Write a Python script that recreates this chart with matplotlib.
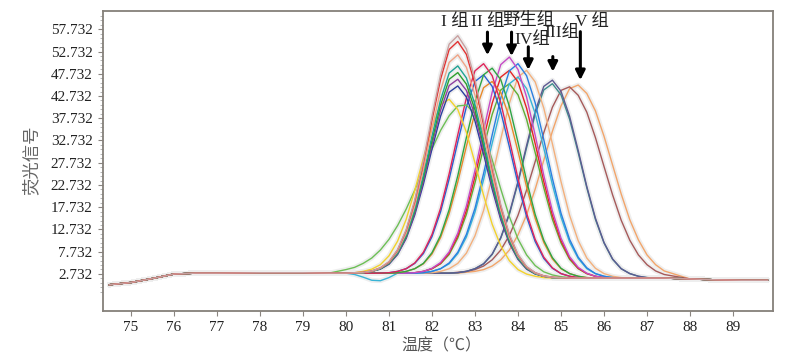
import matplotlib
matplotlib.use('Agg')
import matplotlib.pyplot as plt
from matplotlib.ticker import FixedLocator

plt.rcParams['font.family'] = ['Liberation Serif', 'Noto Sans CJK SC']

# ---- data: melting curves ----
temps_low = [74.5, 75.0, 75.5, 76.0, 76.5, 77.0, 78.0, 79.0, 79.6]
base_low = [0.3, 0.8, 1.7, 2.7, 2.9, 2.9, 3.0, 3.0, 2.9]

temps_peak = [80.0, 80.2, 80.4, 80.6, 80.8, 81.0, 81.2, 81.4, 81.6, 81.8,
              82.0, 82.2, 82.4, 82.6, 82.8, 83.0, 83.2, 83.4, 83.6, 83.8,
              84.0, 84.2, 84.4, 84.6, 84.8, 85.0, 85.2, 85.4, 85.6, 85.8,
              86.0, 86.2, 86.4, 86.6, 86.8, 87.0, 87.2, 87.4]

temps_tail = [88.0, 88.6, 89.2, 89.8]
base_tail = [1.6, 1.4, 1.3, 1.3]

# group I  (peak ~82.6)
grp1_a = [2.9, 3.0, 3.1, 3.4, 4.1, 5.5, 8.2, 12.7, 19.4, 28.2, 38.2, 47.6, 54.4,
          56.3, 53.3, 46.5, 37.1, 27.1, 18.3, 11.6, 7.1, 4.4, 3.0, 2.3, 2.0, 1.9,
          1.8, 1.8, 1.8, 1.8, 1.8, 1.8, 1.8, 1.8, 1.8, 1.8, 1.8, 1.8]
grp1_b = [2.9, 3.0, 3.1, 3.4, 4.1, 5.4, 8.1, 12.5, 19.0, 27.6, 37.3, 46.5, 53.2,
          55.0, 52.1, 45.4, 36.2, 26.5, 17.9, 11.4, 7.0, 4.3, 3.0, 2.3, 2.0, 1.9,
          1.8, 1.8, 1.8, 1.8, 1.8, 1.8, 1.8, 1.8, 1.8, 1.8, 1.8, 1.8]
grp1_c = [2.9, 2.9, 3.0, 3.3, 4.0, 5.3, 7.8, 11.9, 18.1, 26.2, 35.4, 44.0, 50.3,
          52.0, 49.2, 42.9, 34.3, 25.1, 17.0, 10.8, 6.7, 4.2, 2.9, 2.2, 1.9, 1.8,
          1.8, 1.8, 1.8, 1.8, 1.8, 1.8, 1.8, 1.8, 1.8, 1.8, 1.8, 1.8]
grp1_d = [2.9, 2.9, 3.0, 3.3, 3.9, 5.2, 7.5, 11.5, 17.3, 25.0, 33.7, 41.9, 47.9,
          49.5, 46.8, 40.8, 32.6, 23.9, 16.2, 10.4, 6.4, 4.1, 2.8, 2.2, 1.9, 1.8,
          1.8, 1.8, 1.8, 1.8, 1.8, 1.8, 1.8, 1.8, 1.8, 1.8, 1.8, 1.8]
grp1_e = [2.9, 2.9, 3.0, 3.3, 3.9, 5.1, 7.4, 11.2, 16.9, 24.3, 32.7, 40.7, 46.5,
          48.0, 45.4, 39.6, 31.6, 23.2, 15.8, 10.1, 6.3, 4.0, 2.8, 2.2, 1.9, 1.8,
          1.8, 1.8, 1.8, 1.8, 1.8, 1.8, 1.8, 1.8, 1.8, 1.8, 1.8, 1.8]
grp1_f = [2.9, 2.9, 3.0, 3.3, 3.9, 5.0, 7.2, 10.9, 16.4, 23.6, 31.8, 39.5, 45.1,
          46.5, 44.0, 38.4, 30.7, 22.5, 15.3, 9.8, 6.1, 3.9, 2.8, 2.2, 1.9, 1.8,
          1.8, 1.8, 1.8, 1.8, 1.8, 1.8, 1.8, 1.8, 1.8, 1.8, 1.8, 1.8]
grp1_g = [2.9, 2.9, 3.0, 3.3, 3.8, 4.9, 7.1, 10.7, 16.0, 22.9, 30.8, 38.2, 43.6,
          45.0, 42.5, 37.1, 29.7, 21.8, 14.9, 9.6, 6.0, 3.8, 2.7, 2.2, 1.9, 1.8,
          1.8, 1.8, 1.8, 1.8, 1.8, 1.8, 1.8, 1.8, 1.8, 1.8, 1.8, 1.8]
grp1_yellow = [2.9, 3.0, 3.3, 3.8, 4.8, 6.8, 10.1, 15.0, 21.5, 28.8, 35.7, 40.8,
               42.0, 39.7, 34.6, 27.7, 20.4, 13.9, 9.0, 5.7, 3.7, 2.7, 2.2, 1.9, 1.8,
               1.8, 1.8, 1.8, 1.8, 1.8, 1.8, 1.8, 1.8, 1.8, 1.8, 1.8, 1.8, 1.8]
grp1_green = [3.7, 4.2, 5.1, 6.3, 8.1, 10.5, 13.6, 17.3, 21.6, 26.2, 30.8, 35.0, 38.3, 40.5,
              40.7, 38.7, 34.4, 28.4, 21.8, 15.6, 10.6, 7.0, 4.6, 3.2, 2.5, 2.1, 1.9,
              1.8, 1.8, 1.8, 1.8, 1.8, 1.8, 1.8, 1.8, 1.8, 1.8, 1.8]

# group II  (peak ~83.3)
grp2_a = [2.9, 2.9, 2.9, 2.9, 2.9, 3.0, 3.3, 3.9, 5.2, 7.6, 11.6, 17.5, 25.3, 34.0, 42.3, 48.4,
          50.0, 47.3, 41.2, 32.9, 24.2, 16.4, 10.5, 6.5, 4.1, 2.8, 2.2, 1.9,
          1.8, 1.8, 1.8, 1.8, 1.8, 1.8, 1.8, 1.8, 1.8, 1.8]
grp2_b = [2.9, 2.9, 2.9, 2.9, 2.9, 2.9, 3.0, 3.3, 3.9, 5.1, 7.5, 11.4, 17.2, 24.8, 33.4, 41.5, 47.5,
          49.0, 46.4, 40.4, 32.3, 23.7, 16.1, 10.3, 6.4, 4.0, 2.8, 2.2, 1.9,
          1.8, 1.8, 1.8, 1.8, 1.8, 1.8, 1.8, 1.8, 1.8]
grp2_c = [2.9, 2.9, 2.9, 2.9, 2.9, 3.0, 3.3, 3.9, 5.1, 7.3, 11.1, 16.7, 24.1, 32.4, 40.3, 46.0,
          47.5, 44.9, 39.2, 31.3, 23.0, 15.6, 10.0, 6.2, 4.0, 2.8, 2.2, 1.9,
          1.8, 1.8, 1.8, 1.8, 1.8, 1.8, 1.8, 1.8, 1.8, 1.8]
grp2_d = [2.9, 2.9, 2.9, 2.9, 2.9, 2.9, 3.0, 3.3, 3.9, 5.0, 7.2, 10.9, 16.3, 23.4, 31.4, 39.0, 44.6,
          46.0, 43.5, 37.9, 30.3, 22.3, 15.2, 9.8, 6.1, 3.9, 2.8, 2.2, 1.9,
          1.8, 1.8, 1.8, 1.8, 1.8, 1.8, 1.8, 1.8, 1.8]

# wild type  (peak ~83.85)
wild_a = [2.9, 2.9, 2.9, 2.9, 2.9, 2.9, 2.9, 2.9, 3.0, 3.3, 4.0, 5.3, 7.7, 11.9, 18.0, 26.0, 35.0, 43.6, 49.8,
          51.5, 48.7, 42.5, 33.9, 24.9, 16.9, 10.8, 6.6, 4.2, 2.9, 2.2, 1.9,
          1.8, 1.8, 1.8, 1.8, 1.8, 1.8, 1.8]
wild_b = [2.9, 2.9, 2.9, 2.9, 2.9, 2.9, 2.9, 2.9, 2.9, 3.0, 3.3, 3.9, 5.2, 7.6, 11.6, 17.5, 25.3, 34.0, 42.3, 48.4,
          50.0, 47.3, 41.2, 32.9, 24.2, 16.4, 10.5, 6.5, 4.1, 2.8, 2.2, 1.9,
          1.8, 1.8, 1.8, 1.8, 1.8, 1.8]
wild_c = [2.9, 2.9, 2.9, 2.9, 2.9, 2.9, 2.9, 2.9, 3.0, 3.3, 3.9, 5.1, 7.4, 11.3, 17.0, 24.6, 33.1, 41.1, 47.0,
          48.5, 45.9, 40.0, 32.0, 23.5, 15.9, 10.2, 6.3, 4.0, 2.8, 2.2, 1.9,
          1.8, 1.8, 1.8, 1.8, 1.8, 1.8, 1.8]
wild_d = [2.9, 2.6, 2.0, 1.3, 1.2, 1.9, 2.9, 2.9, 2.9, 3.0, 3.3, 3.9, 5.0, 7.3, 11.0, 16.6, 23.9, 32.1, 39.9, 45.5,
          47.0, 44.4, 38.8, 31.0, 22.8, 15.5, 9.9, 6.2, 3.9, 2.8, 2.2, 1.9,
          1.8, 1.8, 1.8, 1.8, 1.8, 1.8]
wild_e = [2.9, 2.9, 2.9, 2.9, 2.9, 2.9, 2.9, 2.9, 3.0, 3.3, 3.9, 5.0, 7.1, 10.8, 16.1, 23.2, 31.1, 38.6, 44.1,
          45.5, 43.0, 37.5, 30.0, 22.1, 15.0, 9.7, 6.0, 3.9, 2.8, 2.2, 1.9,
          1.8, 1.8, 1.8, 1.8, 1.8, 1.8, 1.8]

# group IV  (peak ~84.2)
grp4_a = [2.9, 2.9, 2.9, 2.9, 2.9, 2.9, 2.9, 2.9, 2.9, 2.9, 3.0, 3.3, 3.9, 5.1, 7.4, 11.3, 17.0, 24.6, 33.1, 41.1, 47.0,
          48.5, 45.9, 40.0, 32.0, 23.5, 15.9, 10.2, 6.3, 4.0, 2.8, 2.2, 1.9,
          1.8, 1.8, 1.8, 1.8, 1.8]

# group III  (peak ~84.8)
grp3_a = [2.9, 2.9, 2.9, 2.9, 2.9, 2.9, 2.9, 2.9, 2.9, 2.9, 2.9, 2.9, 2.9,
          3.0, 3.3, 3.9, 5.0, 7.2, 10.9, 16.4, 23.5, 31.6, 39.3, 44.9,
          46.3, 43.8, 38.2, 30.5, 22.4, 15.3, 9.8, 6.1, 3.9, 2.8, 2.2, 1.9, 1.8, 1.8]
grp3_b = [2.9, 2.9, 2.9, 2.9, 2.9, 2.9, 2.9, 2.9, 2.9, 2.9, 2.9, 2.9, 2.9,
          3.0, 3.3, 3.9, 5.0, 7.1, 10.8, 16.1, 23.2, 31.1, 38.6, 44.1,
          45.5, 43.0, 37.5, 30.0, 22.1, 15.0, 9.7, 6.0, 3.9, 2.8, 2.2, 1.9, 1.8, 1.8]

# group V  (peaks ~85.2 / 85.4)
grp5_a = [2.9, 2.9, 2.9, 2.9, 2.9, 2.9, 2.9, 2.9, 2.9, 2.9, 2.9, 2.9, 2.9,
          3.1, 3.3, 3.7, 4.5, 5.9, 8.1, 11.4, 15.9, 21.6, 28.0, 34.5, 40.2, 44.0,
          44.8, 42.9, 39.1, 33.4, 26.9, 20.5, 14.8, 10.3, 7.0, 4.8, 3.4, 2.6]
grp5_b = [2.9, 2.9, 2.9, 2.9, 2.9, 2.9, 2.9, 2.9, 2.9, 2.9, 2.9, 2.9, 2.9, 2.9,
          3.1, 3.3, 3.7, 4.5, 5.9, 8.1, 11.5, 16.0, 21.8, 28.3, 34.8, 40.5, 44.4,
          45.2, 43.3, 39.4, 33.7, 27.2, 20.7, 14.9, 10.4, 7.0, 4.8, 3.4]

curves = [
    (grp5_b, '#f2a56a'), (grp5_a, '#a65a5a'),
    (grp3_b, '#3f8c8c'), (grp3_a, '#5d5a92'),
    (grp4_a, '#f3b07c'),
    (wild_e, '#5fae34'), (wild_d, '#38b4d6'), (wild_c, '#e52525'),
    (wild_b, '#2a7fe0'), (wild_a, '#c64ac6'),
    (grp2_d, '#e88a2a'), (grp2_c, '#2862d2'), (grp2_b, '#2fa544'), (grp2_a, '#e0245a'),
    (grp1_green, '#6cbf55'), (grp1_yellow, '#f2d22c'),
    (grp1_g, '#2a3f9e'), (grp1_f, '#8e3fa0'), (grp1_e, '#2ca02c'),
    (grp1_d, '#1fa394'), (grp1_c, '#f0a486'), (grp1_b, '#e23232'), (grp1_a, '#c9a0a0'),
]

yticks = [2.732, 7.732, 12.732, 17.732, 22.732, 27.732, 32.732,
          37.732, 42.732, 47.732, 52.732, 57.732]
xticks = list(range(75, 90))

labels = ['I 组', 'II 组', '野生组', 'IV组', 'III组', 'V 组']
label_xy = [(82.52, 59.4), (83.30, 59.4), (84.24, 59.5), (84.33, 55.3), (85.03, 56.9), (85.73, 59.4)]
arrows = [(83.29, 57.1, 51.9), (83.85, 57.1, 51.7), (84.24, 53.8, 48.6),
          (84.81, 51.6, 48.2), (85.45, 57.2, 46.3)]

# ---- figure ----
fig = plt.figure(figsize=(7.91, 3.61), dpi=100)
ax = fig.add_axes([103 / 791, 1 - 311 / 361, 670 / 791, 300 / 361])

temps_all = temps_low + temps_peak + temps_tail
# faint grey speckle band around the traces
for vals, col in curves:
    ax.plot(temps_all, base_low + vals + base_tail, color='#eeeeee', lw=3.5,
            solid_capstyle='round', zorder=1)
for vals, col in curves:
    ax.plot(temps_all, base_low + vals + base_tail, color=col, lw=1.0, zorder=2)

ax.set_xlim(74.35, 89.93)
ax.set_ylim(-5.61, 61.85)
ax.set_xticks(xticks)
ax.set_yticks(yticks)
ax.set_yticklabels([f'{v:.3f}' for v in yticks])
ax.yaxis.set_minor_locator(FixedLocator([v + d for v in yticks for d in (-4, -3, -2, -1)] + [58.732, 59.732, 60.732]))
ax.tick_params(axis='both', which='major', labelsize=11, colors='#8a8580',
               labelcolor='#222222', length=3.5, width=0.8)
ax.tick_params(axis='y', which='minor', length=2, width=0.6, colors='#aaaaaa')
ax.tick_params(axis='x', pad=4)
ax.tick_params(axis='y', pad=4)
for s in ax.spines.values():
    s.set_color('#85807a')
    s.set_linewidth(1.3)

for txt, (x, y) in zip(labels, label_xy):
    ax.text(x, y, txt, ha='center', va='center', fontsize=12.5, color='#222222',
            zorder=5)
for x, y0, y1 in arrows:
    ax.annotate('', xy=(x, y1), xytext=(x, y0),
                arrowprops=dict(arrowstyle='-|>', color='black', lw=2.2,
                                mutation_scale=14, shrinkA=0, shrinkB=0),
                zorder=5)

fig.text(32 / 791, 1 - 160 / 361, '荧光信号', rotation=90, ha='center', va='center',
         fontsize=12.5, color='#666666', family=['Noto Sans CJK SC'])
fig.text(441 / 791, 1 - 346 / 361, '温度（℃）', ha='center', va='center',
         fontsize=11.5, color='#555555', family=['Noto Sans CJK SC', 'DejaVu Sans'])

plt.savefig('out.png', dpi=100)
plt.close()
